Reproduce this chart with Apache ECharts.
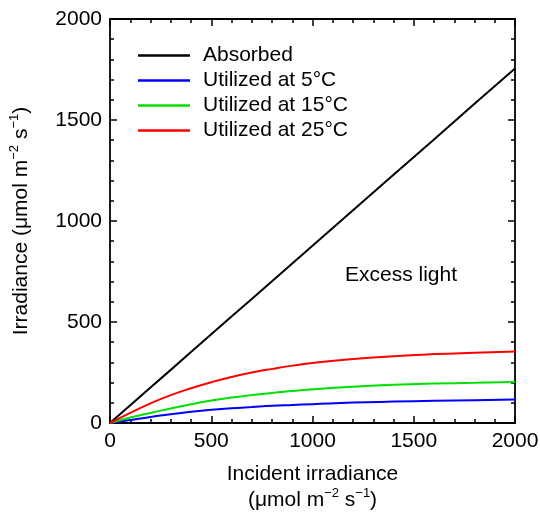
<!DOCTYPE html>
<html>
<head>
  <meta charset="utf-8">
  <script src="https://cdn.jsdelivr.net/npm/echarts@6/dist/echarts.min.js"></script>
  <style>
    html, body { margin: 0; padding: 0; background: #fff; }
    #chart { width: 540px; height: 516px; }
  </style>
</head>
<body>
  <div id="chart"></div>
  <script>
    // values
    const incident = [0, 100, 200, 300, 400, 500, 600, 700, 800, 900, 1000, 1200, 1400, 1600, 1800, 2000];
    const absorbed = [0, 88, 176, 263, 351, 439, 527, 614, 702, 790, 878, 1053, 1229, 1404, 1580, 1755];
    const utilized5 = [0, 15, 30, 43, 56, 66, 73, 79, 85, 89, 93, 101, 106, 110, 113, 116];
    const utilized15 = [0, 27, 50, 72, 93, 111, 126, 138, 149, 158, 167, 180, 189, 195, 199, 203];
    const utilized25 = [0, 50, 97, 138, 172, 202, 228, 250, 268, 284, 297, 317, 331, 341, 348, 354];
    const seriesNames = ["Absorbed", "Utilized at 5°C", "Utilized at 15°C", "Utilized at 25°C"];
    const seriesColors = ["#000000", "#0000ff", "#00e000", "#ff0000"];
    const seriesValues = [absorbed, utilized5, utilized15, utilized25];

    const font = "Liberation Sans, Arial, sans-serif";
    const chart = echarts.init(document.getElementById("chart"));

    function axis(pos, showLabel, extra) {
      return Object.assign({
        type: "value",
        position: pos,
        min: 0,
        max: 2000,
        interval: 500,
        splitLine: { show: false },
        axisLine: { show: true, onZero: false, lineStyle: { color: "#000", width: 1.8 } },
        axisTick: { show: true, inside: true, length: 7, lineStyle: { color: "#000", width: 1.5 } },
        minorTick: { show: true, splitNumber: 5, length: 4, lineStyle: { color: "#000", width: 1.5 } },
        axisLabel: {
          show: showLabel, color: "#000", fontSize: 21, fontFamily: font, margin: 8,
          formatter: v => String(v)
        }
      }, extra || {});
    }

    const sup = { fontSize: 13, fontFamily: font, color: "#000", verticalAlign: "top", lineHeight: 12 };
    const norm = { fontSize: 21, fontFamily: font, color: "#000", lineHeight: 26 };

    const option = {
      animation: false,
      grid: { left: 110, right: 25, top: 19, bottom: 93, outerBoundsMode: "none", containLabel: false },
      legend: {
        orient: "vertical",
        left: 138,
        top: 43,
        padding: 0,
        icon: "rect",
        itemWidth: 52,
        itemHeight: 2.5,
        itemGap: 0,
        data: seriesNames,
        textStyle: { fontSize: 21, fontFamily: font, color: "#000", lineHeight: 25, padding: [0, 0, 0, 8] }
      },
      xAxis: [
        axis("bottom", true, {
          name: "{a|Incident irradiance}\n{a|(μmol m}{s|−2}{a| s}{s|−1}{a|)}",
          nameLocation: "middle",
          nameGap: 38,
          nameTextStyle: { rich: { a: norm, s: sup } }
        }),
        axis("top", false)
      ],
      yAxis: [
        axis("left", true, {
          name: "{a|Irradiance (μmol m}{s|−2}{a| s}{s|−1}{a|)}",
          nameLocation: "middle",
          nameGap: 76,
          nameTextStyle: { rich: { a: norm, s: sup } }
        }),
        axis("right", false)
      ],
      graphic: [{
        type: "text",
        left: 345,
        top: 265,
        style: { text: "Excess light", fontSize: 21, fontFamily: font, fill: "#000" }
      }],
      series: seriesNames.map((name, i) => ({
        name: name,
        type: "line",
        smooth: i > 0,
        symbol: "none",
        color: seriesColors[i],
        lineStyle: { width: 2, color: seriesColors[i] },
        data: incident.map((x, j) => [x, seriesValues[i][j]])
      }))
    };

    chart.setOption(option);
  </script>
</body>
</html>
